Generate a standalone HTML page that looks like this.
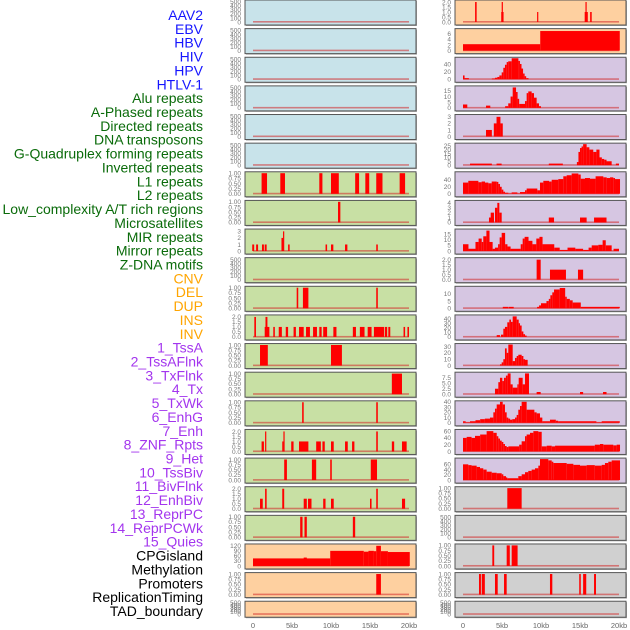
<!DOCTYPE html>
<html><head><meta charset="utf-8">
<style>
body{margin:0;background:#fff;width:630px;height:630px;overflow:hidden;font-family:"Liberation Sans",sans-serif;}
svg{position:absolute;left:0;top:0;}
</style></head>
<body>
<svg id="chart" width="630" height="630"></svg>
<script>
const trackLabels=["AAV2","EBV","HBV","HIV","HPV","HTLV-1","Alu repeats","A-Phased repeats","Directed repeats","DNA transposons","G-Quadruplex forming repeats","Inverted repeats","L1 repeats","L2 repeats","Low_complexity A/T rich regions","Microsatellites","MIR repeats","Mirror repeats","Z-DNA motifs","CNV","DEL","DUP","INS","INV","1_TssA","2_TssAFlnk","3_TxFlnk","4_Tx","5_TxWk","6_EnhG","7_Enh","8_ZNF_Rpts","9_Het","10_TssBiv","11_BivFlnk","12_EnhBiv","13_ReprPC","14_ReprPCWk","15_Quies","CPGisland","Methylation","Promoters","ReplicationTiming","TAD_boundary"];
const labelGroups=[0,0,0,0,0,0,1,1,1,1,1,1,1,1,1,1,1,1,1,2,2,2,2,2,3,3,3,3,3,3,3,3,3,3,3,3,3,3,3,4,4,4,4,4];
const xTickLabels=["0","5kb","10kb","15kb","20kb"];
const xTickValues=[0,5,10,15,20];
const T500=[0,100,200,300,400,500], T1=["0.00","0.25","0.50","0.75","1.00"], T2=["0.0","0.5","1.0","1.5","2.0"], T3=[0,1,2,3];
// left column panels: y max, tick labels
const leftYMax=[520,520,520,520,520,520,1.02,1.02,3.2,520,1.02,2.1,1.02,1.02,1.02,2.1,1.02,2.1,1.02,125,1.02,520];
const leftTicks=[T500,T500,T500,T500,T500,T500,T1,T1,T3,T500,T1,T2,T1,T1,T1,T2,T1,T2,T1,[0,30,60,90,120],T1,T500];
const leftBars=[[],[],[],[],[],[],
[[1.1,1.8,1],[3.5,4.1,1],[8.5,8.9,1],[10,11,1],[13.1,13.6,1],[14.4,14.9,1],[15.8,16.6,1],[18.8,19.5,1]],
[[10.9,11.2,1]],
[[-0.1,0.15,1],[0.4,0.65,1],[1.15,1.4,1],[1.5,1.75,1],[3.65,3.85,2],[3.85,4.0,3],[4.5,4.7,1],[9.3,9.5,1],[10.0,10.3,1],[11.8,12.1,1],[15.8,16.0,1]],
[],
[[5.6,5.8,1],[6.4,7.1,1],[15.8,16.0,1]],
[[0.17,0.38,2],[1.5,2.1,1],[1.6,1.85,2],[2.6,2.8,1],[3.3,3.7,1],[4.2,4.5,1],[5.2,5.5,1],[5.9,6.5,1],[6.8,7.3,1],[7.7,8.2,1],[8.5,8.8,1],[9.0,9.5,1],[10.3,10.7,1],[12.8,13.2,1],[13.7,14.3,1],[14.7,15.2,1],[15.5,16.8,1],[16.9,17.2,1],[17.35,17.6,1],[19.3,19.5,1],[19.8,20.0,1]],
[[0.9,1.9,1],[10.0,11.4,1]],
[[17.8,19.1,1]],
[[6.3,6.5,1],[15.8,16.0,1]],
[[1.1,1.4,1],[1.55,1.7,2],[3.75,3.9,1],[3.9,4.0,2],[4.9,5.2,1],[5.9,7.1,1],[8.1,8.7,1],[8.9,9.2,1],[10.0,10.35,1],[11.8,12.15,1],[12.7,13.0,1],[15.8,16.0,2],[17.8,18.1,1],[19.1,19.7,1]],
[[4.0,4.35,1],[7.55,8.1,1],[9.9,10.1,1],[15.1,15.9,1]],
[[0.9,1.25,1],[1.55,1.75,2],[3.75,4.0,2],[6.5,6.9,1],[7.05,7.5,1],[9.0,9.3,1],[10.0,10.35,1],[15.0,15.2,1],[15.8,16.0,2],[19.1,19.5,1]],
[[6.05,6.35,1],[6.6,6.9,1],[12.8,13.1,1]],
[[0,9.9,45],[6.5,6.9,50],[9.9,14.2,90],[14.2,14.8,85],[14.8,15.5,90],[15.8,16.4,120],[16.4,17.3,88],[17.3,20.1,83],[15.5,15.8,88]],
[[15.8,16.4,1]],
[]];
const rightYMax=[2.1,7.5,55,18.5,3.2,27,60,4.3,18.5,2.1,14.5,46,33,9.6,40,62,80,1.02,520,1.02,1.02,520];
const rightTicks=[T2,[0,2,4,6],[0,20,40],[0,5,10,15],T3,[0,5,10,15,20,25],[0,20,40],[0,1,2,3,4],[0,5,10,15],T2,[0,5,10],[0,10,20,30,40],[0,10,20,30],["0.0","2.5","5.0","7.5"],[0,10,20,30,40],[0,20,40,60],[0,20,40,60],T1,T500,T1,T1,T500];
const rightBars=[
[[1.55,1.75,2],[4.9,5.2,1],[4.96,5.1,2],[9.5,9.65,1],[15.6,16.0,1],[15.7,15.85,2],[16.3,16.5,1]],
[[0,9.9,2.3],[9.9,20.1,7]],
[[0,0.2,10],[0.2,0.75,3],[3.7,4.1,2],[4.1,4.4,4],[4.4,4.66,6],[4.66,4.96,10],[4.96,5.17,18],[5.17,5.38,30],[5.38,5.6,38],[5.6,5.8,45],[5.8,6.24,47],[6.24,7.1,55],[7.1,7.3,48],[7.3,7.5,40],[7.5,7.7,28],[7.7,7.9,15],[7.9,8.1,8],[8.1,8.4,3]],
[[0,0.55,3],[2.95,3.5,2],[5.4,5.8,1.5],[5.8,6.1,4],[6.1,6.37,10],[6.37,6.8,18],[6.8,7.0,14],[7.0,7.2,8],[7.2,7.95,3.5],[7.95,8.16,6],[8.16,8.37,13],[8.37,8.8,14.5],[8.8,9.1,13],[9.1,9.44,9],[9.44,9.74,4],[9.74,10.0,1.5]],
[[2.95,3.7,1],[3.95,4.3,2],[4.3,4.8,3],[4.8,5.1,2]],
[[0.9,3.7,2],[4.3,4.95,2],[11.0,12.8,2],[14.6,14.8,4],[14.8,15.0,17],[15.0,15.2,22],[15.2,15.4,24],[15.4,15.85,27],[15.85,16.2,23],[16.2,16.7,20],[16.7,17.1,17],[17.1,17.5,20],[17.5,17.8,10],[17.8,18.1,8],[18.1,18.4,7],[18.4,19.06,5],[19.6,20.0,2]],
[[0,0.68,32],[0.68,1.97,37],[1.97,2.39,33],[2.39,2.82,35],[2.82,3.25,32],[3.25,3.68,30],[3.68,4.32,35],[4.32,4.53,34],[4.53,4.74,28],[4.74,4.96,20],[4.96,5.17,12],[5.17,5.38,6],[5.38,5.81,3],[5.81,6.24,1],[6.24,6.97,4],[6.97,7.31,1],[7.31,7.95,5],[7.95,8.16,10],[8.16,9.53,15],[9.53,9.87,10],[9.87,10.3,32],[10.3,11.03,37],[11.03,11.37,35],[11.37,12.22,40],[12.22,12.86,42],[12.86,13.29,50],[13.29,13.93,53],[13.93,14.79,58],[14.79,15.09,55],[15.09,15.64,43],[15.64,16.28,45],[16.28,17.0,43],[17.0,17.99,50],[17.99,18.42,47],[18.42,18.85,45],[18.85,19.27,47],[19.27,19.49,45],[19.49,20.13,42]],
[[3.33,3.97,1],[3.55,3.97,2],[4.1,4.4,3],[4.4,4.66,4],[4.66,4.96,2],[11.0,11.67,1],[15.0,15.85,1],[16.8,18.4,1]],
[[0,0.7,6],[0.7,1.6,2],[1.6,2.0,8],[2.0,2.4,11],[2.4,2.6,8],[2.6,3.0,13],[3.0,3.4,18],[3.4,3.8,8],[3.8,4.1,2],[4.1,4.5,3],[4.5,4.7,6],[4.7,4.96,12],[4.96,5.4,16],[5.4,5.7,6],[5.7,6.1,4],[6.1,7.4,2],[7.4,7.65,6],[7.65,7.9,11],[7.9,8.4,12.5],[8.4,8.9,9],[8.9,9.4,6],[9.4,9.8,11],[9.8,10.2,12.5],[10.2,11.7,6],[11.7,12.4,3],[12.4,13.4,1],[13.4,14.4,3],[14.4,15.4,2],[15.4,16.1,1],[16.1,16.5,3],[16.5,17.35,5],[17.35,17.9,5.5],[17.9,18.3,9.5],[18.3,19.06,5],[19.3,20.0,2]],
[[9.44,9.96,2],[11.15,13.2,1],[14.74,15.4,1]],
[[5.1,5.8,1],[5.85,6.5,1],[9.5,9.75,1],[9.75,10.0,2],[10.0,10.7,3.5],[10.7,11.0,5],[11.0,11.2,6.5],[11.2,11.45,9],[11.45,11.67,11],[11.67,12.4,13],[12.4,13.1,14],[13.1,13.3,8],[13.3,13.7,6.5],[13.7,14.06,5.5],[14.06,15.1,4],[15.1,20.1,1]],
[[4.32,4.74,4],[4.87,5.17,5],[5.17,5.38,18],[5.38,5.68,22],[5.68,5.94,32],[5.94,6.15,38],[6.15,6.37,33],[6.37,6.88,45],[6.88,7.14,38],[7.14,7.31,30],[7.31,7.52,25],[7.52,7.74,12],[7.74,7.95,6],[7.95,8.16,3]],
[[4.74,4.96,2],[4.96,5.17,5],[5.17,5.38,10],[5.38,5.6,27],[5.6,5.81,20],[5.81,6.37,33],[6.37,6.67,7],[6.67,6.88,12],[6.88,7.09,15],[7.09,7.52,17],[7.52,7.74,15],[7.74,7.95,10],[7.95,8.29,9]],
[[4.1,4.53,2.5],[4.53,4.74,5.5],[4.74,5.04,7.5],[5.04,5.25,6],[5.25,5.5,7.5],[5.5,5.73,8.5],[5.73,6.1,9.5],[6.1,6.37,4.5],[6.37,6.97,3],[6.97,7.14,4.5],[7.14,7.65,7.5],[7.65,7.95,4.5],[7.95,8.46,9.5],[9.44,9.96,1],[15.0,15.4,1],[17.95,18.4,1]],
[[0,0.34,3],[0.34,0.9,1],[0.9,1.6,3],[1.6,2.2,5],[2.2,2.8,7],[2.8,3.46,8],[3.46,3.89,10],[3.89,4.1,20],[4.1,4.32,27],[4.32,4.74,35],[4.74,5.09,40],[5.09,5.38,35],[5.38,5.6,20],[5.6,5.81,10],[5.81,6.03,8],[6.03,6.32,6],[6.32,6.67,7],[6.67,6.88,10],[6.88,7.09,15],[7.09,7.31,25],[7.31,7.52,32],[7.52,8.16,40],[8.16,9.15,25],[9.15,9.44,20],[9.44,9.87,18],[9.87,10.17,10],[10.17,11.15,3],[11.15,11.9,6],[11.9,12.2,4],[12.2,17.1,3],[17.1,17.78,1],[17.78,20.1,3]],
[[0,0.47,40],[0.47,1.1,43],[1.1,1.54,40],[1.54,2.2,46],[2.2,3.03,50],[3.03,3.89,60],[3.89,4.32,55],[4.32,4.53,45],[4.53,4.74,38],[4.74,4.96,32],[4.96,5.17,28],[5.17,5.38,22],[5.38,5.6,16],[5.6,5.81,13],[5.81,7.2,15],[7.2,7.52,20],[7.52,7.95,30],[7.95,8.16,45],[8.16,8.59,50],[8.59,9.02,55],[9.02,9.66,60],[9.66,10.09,58],[10.09,10.73,15],[10.73,11.37,17],[11.37,11.8,15],[11.8,16.9,17],[16.9,17.56,20],[17.56,17.99,22],[17.99,19.27,20],[19.27,19.7,18],[19.7,20.13,20]],
[[0,0.68,60],[0.68,1.1,57],[1.1,1.75,55],[1.75,2.18,50],[2.18,2.6,45],[2.6,3.03,40],[3.03,3.68,32],[3.68,4.32,28],[4.32,4.96,26],[4.96,5.17,22],[5.17,5.51,15],[5.51,5.68,10],[5.68,7.09,7],[7.09,7.52,15],[7.52,7.95,22],[7.95,8.37,30],[8.37,8.8,35],[8.8,9.23,40],[9.23,9.66,45],[9.66,9.87,55],[9.87,10.94,80],[10.94,11.37,75],[11.37,11.58,70],[11.58,13.29,65],[13.29,14.15,62],[14.15,15.0,58],[15.0,15.85,55],[15.85,16.9,57],[16.9,17.78,55],[17.78,18.2,58],[18.2,18.63,65],[18.63,19.06,70],[19.06,20.13,75]],
[[5.68,7.52,1]],
[],
[[3.76,4.0,1],[5.6,6.0,1],[6.24,7.0,1]],
[[2.05,2.3,1],[2.4,2.8,1],[4.1,4.45,1],[5.26,5.6,1],[11.15,11.45,1],[14.9,15.1,1],[15.4,15.8,1],[16.8,17.05,1]],
[]];
const leftBg=["#c8e3ea","#c8e3ea","#c8e3ea","#c8e3ea","#c8e3ea","#c8e3ea","#c8e0a4","#c8e0a4","#c8e0a4","#c8e0a4","#c8e0a4","#c8e0a4","#c8e0a4","#c8e0a4","#c8e0a4","#c8e0a4","#c8e0a4","#c8e0a4","#c8e0a4","#fed0a0","#fed0a0","#fed0a0"];
const rightBg=["#fed0a0","#fed0a0","#d6c6e2","#d6c6e2","#d6c6e2","#d6c6e2","#d6c6e2","#d6c6e2","#d6c6e2","#d6c6e2","#d6c6e2","#d6c6e2","#d6c6e2","#d6c6e2","#d6c6e2","#d6c6e2","#d6c6e2","#d0d0d0","#d0d0d0","#d0d0d0","#d0d0d0","#d0d0d0"];

const NS="http://www.w3.org/2000/svg";
const svg=document.getElementById('chart');
function mk(tag,attrs,parent){const e=document.createElementNS(NS,tag);for(const k in attrs)e.setAttribute(k,attrs[k]);(parent||svg).appendChild(e);return e;}
const groupColors=["#1515ff","#0a6b0a","#ffa500","#a335ee","#000000"];
const ROW=28.63;
function xScale(col,kb){return (col===0?253:463)+kb*7.8;}
function panelTop(i){return i*ROW;}
function panelH(i){return i===21?16:25;}

// labels
trackLabels.forEach((t,i)=>{
  const el=mk('text',{x:203,y:15+i*13.86+5,'text-anchor':'end','font-size':'14',fill:groupColors[labelGroups[i]],'font-family':'Liberation Sans, sans-serif'});
  el.textContent=t;
  
  
});

function drawPanel(col,i,bars,ymax,ticks,bg){
  const x0=col===0?245:455, w=171, top=panelTop(i), h=panelH(i);
  const g=mk('g',{});
  
  
  mk('rect',{x:x0+1,y:top+1,width:w,height:h,fill:'#aaa'},g);
  mk('rect',{x:x0,y:top,width:w,height:h,fill:bg,stroke:'#555','stroke-width':1},g);
  const base=top+h-3, plotH=h-4;
  const yS=v=>base-(v/ymax)*plotH;
  // baseline
  const bl=mk('rect',{x:xScale(col,0),y:base-1,width:xScale(col,20)-xScale(col,0),height:1.6,fill:'rgba(210,40,40,0.55)'},g);
  
  
  bars.forEach(b=>{
    const x1=Math.max(x0+1,xScale(col,b[0])), x2=Math.min(x0+w-1,xScale(col,b[1]));
    const y=Math.max(top+1,yS(b[2]));
    const r=mk('rect',{x:x1,y:y,width:Math.max(1.2,x2-x1),height:base-y,fill:'#ff0000'},g);
    
    
  });
  // ticks
  const tx=col===0?241:451;
  ticks.forEach(t=>{
    const v=parseFloat(t);
    const ty=yS(v);
    const te=mk('text',{x:tx,y:ty+2.3,'text-anchor':'end','font-size':'6.5',fill:'#777','font-family':'Liberation Sans, sans-serif'},g);
    te.textContent=String(t);
    
    
  });
}
for(let i=0;i<22;i++){
  drawPanel(0,i,leftBars[i],leftYMax[i],leftTicks[i],leftBg[i]);
  drawPanel(1,i,rightBars[i],rightYMax[i],rightTicks[i],rightBg[i]);
}
// x ticks
[0,1].forEach(col=>{
  xTickValues.forEach((v,k)=>{
    const te=mk('text',{x:xScale(col,v),y:628,'text-anchor':'middle','font-size':'7.5',fill:'#666','font-family':'Liberation Sans, sans-serif'});
    te.textContent=xTickLabels[k];
    
    
  });
});
</script>
</body></html>
